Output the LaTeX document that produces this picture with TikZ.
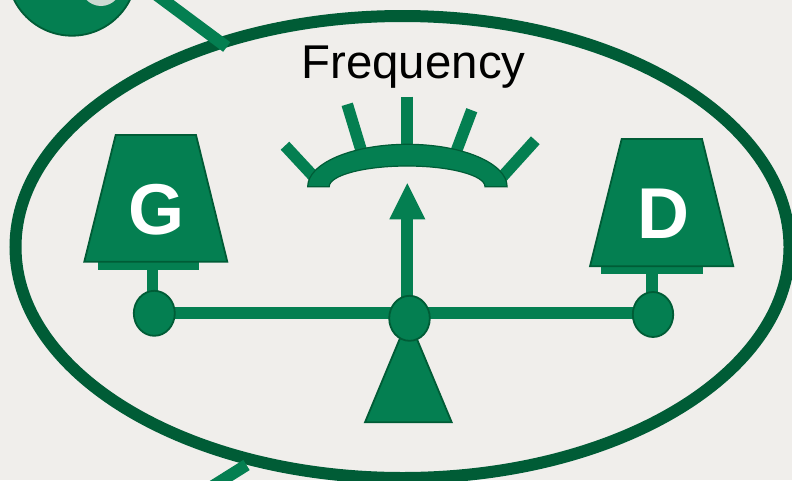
\documentclass[tikz,border=0pt]{standalone}
\usepackage{fontspec}
\setmainfont{Liberation Sans}
\definecolor{bgc}{HTML}{F0EEEB}
\definecolor{gfill}{HTML}{047F51}
\definecolor{gdark}{HTML}{005C36}
\definecolor{ghi}{HTML}{CCDAD2}
\tikzset{
  shapeg/.style={fill=gfill,draw=gdark,line width=1.8pt,line join=miter},
  barg/.style={draw=gfill,line width=11.7pt,line cap=butt},
  plate/.style={fill=gfill},
  ring/.style={draw=gdark,line width=12pt},
  letter/.style={text=white,font=\fontsize{72}{75}\selectfont\bfseries,inner sep=0pt},
  title/.style={text=black,font=\fontsize{47.4}{50}\selectfont,inner sep=0pt,anchor=base}
}
\begin{document}
\begin{tikzpicture}[x=1pt,y=-1pt]
\useasboundingbox (0,0) rectangle (792,480);
\clip (0,0) rectangle (792,480);
\fill[bgc] (0,0) rectangle (792,480);
% corner disc and connectors
\draw[fill=gfill,draw=gdark,line width=1.8pt] (72,-29) circle[radius=64.7];
\fill[ghi] (101,-16) ellipse[x radius=21,y radius=22];
\draw[ring] (402.5,247) ellipse[x radius=387,y radius=231];
\draw[barg,line width=12pt] (150,-10) -- (226.7,47);
\draw[barg,line width=12pt] (205,491) -- (246.5,465);
% gauge ticks
\draw[barg] (407.2,96.7) -- (407.2,150);
\draw[barg] (347.2,104.3) -- (361.7,152);
\draw[barg] (471.8,110.2) -- (456,152);
\draw[barg] (285,145.7) -- (315,178);
\draw[barg] (535.3,140.3) -- (498.5,181);
% gauge arc
\draw[shapeg,line width=1.2pt] (307.7,186.7) arc[start angle=180,end angle=360,x radius=99.7,y radius=42.4]
  -- (485,186.7) arc[start angle=360,end angle=180,x radius=77.9,y radius=20.7] -- cycle;
% needle
\draw[barg] (407.2,215) -- (407.2,305);
\fill[gfill] (407.3,183.3) -- (425.3,219.3) -- (389.3,219.3) -- cycle;
% beam
\draw[barg] (154.3,313) -- (653,313);
% left pan
\draw[barg] (152.5,265) -- (152.5,300);
\fill[plate] (98.3,262) rectangle (199.3,270);
\draw[shapeg] (115.7,135) -- (196,135) -- (227.3,261.7) -- (84.3,261.7) -- cycle;
\draw[shapeg] (154.3,313.3) ellipse[x radius=20.5,y radius=22.5];
% right pan
\draw[barg] (652,268) -- (652,300);
\fill[plate] (601,266) rectangle (702.7,273.5);
\draw[shapeg] (621.7,139) -- (702,139) -- (733.3,266.3) -- (590,266.3) -- cycle;
\draw[shapeg] (653,314.5) ellipse[x radius=20.2,y radius=22.5];
% fulcrum
\draw[shapeg] (408.3,318.4) -- (451.7,422.3) -- (365,422.3) -- cycle;
\draw[shapeg] (409.5,318.3) ellipse[x radius=20.3,y radius=22.5];
% text
\node[title] (freq) at (413.5,78) {Frequency};
\node[letter] (g) at (156.5,210) {G};
\node[letter] (d) at (663.5,213.5) {D};
\end{tikzpicture}
\end{document}
